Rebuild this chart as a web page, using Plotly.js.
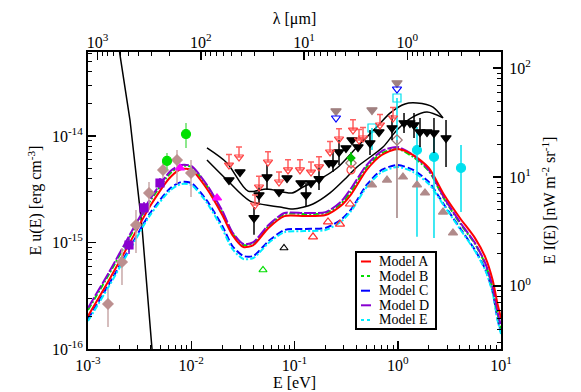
<!DOCTYPE html>
<html><head><meta charset="utf-8">
<script src="https://cdn.plot.ly/plotly-3.0.1.min.js"></script>
<style>html,body{margin:0;padding:0;background:#fff;}#chart{width:581px;height:392px;}</style>
</head><body><div id="chart"></div>
<script>
// ---------- data (E in eV, E u(E) in erg cm^-3) ----------
const energyGrid = [0.001, 0.0016, 0.0025, 0.004, 0.0063, 0.008, 0.01, 0.014, 0.02, 0.025, 0.032, 0.04, 0.056, 0.08, 0.126, 0.2, 0.28, 0.355, 0.5, 0.7, 1.0, 1.41, 2.0, 2.82, 4.0, 5.6, 7.1, 8.3, 9.3, 10];
const modelA = [2.04e-16, 4.45e-16, 9.68e-16, 2.20e-15, 4.12e-15, 4.90e-15, 4.80e-15, 3.25e-15, 1.81e-15, 1.18e-15, 9.07e-16, 9.47e-16, 1.37e-15, 1.77e-15, 1.77e-15, 1.81e-15, 2.20e-15, 2.85e-15, 4.80e-15, 6.63e-15, 7.55e-15, 6.63e-15, 5.01e-15, 2.79e-15, 1.70e-15, 1.10e-15, 7.15e-16, 4.45e-16, 2.59e-16, 1.96e-16];
const modelB = [2.32e-16, 5.06e-16, 1.10e-15, 2.45e-15, 4.49e-15, 5.23e-15, 5.12e-15, 3.47e-15, 1.93e-15, 1.23e-15, 9.47e-16, 9.89e-16, 1.43e-15, 1.85e-15, 1.85e-15, 1.89e-15, 2.30e-15, 3.04e-15, 5.12e-15, 6.92e-15, 7.55e-15, 6.35e-15, 4.69e-15, 2.56e-15, 1.52e-15, 9.68e-16, 6.15e-16, 3.74e-16, 2.09e-16, 1.57e-16];
const modelC = [1.91e-16, 4.08e-16, 8.69e-16, 1.89e-15, 3.25e-15, 3.70e-15, 3.62e-15, 2.51e-15, 1.43e-15, 9.27e-16, 7.47e-16, 7.47e-16, 1.03e-15, 1.31e-15, 1.34e-15, 1.37e-15, 1.63e-15, 2.06e-15, 3.47e-15, 4.80e-15, 5.34e-15, 4.80e-15, 3.70e-15, 2.25e-15, 1.37e-15, 8.50e-16, 5.52e-16, 3.43e-16, 1.87e-16, 1.44e-16];
const modelD = [2.43e-16, 5.28e-16, 1.15e-15, 2.56e-15, 4.69e-15, 5.34e-15, 5.23e-15, 3.54e-15, 1.98e-15, 1.25e-15, 9.68e-16, 1.01e-15, 1.46e-15, 1.89e-15, 1.89e-15, 1.93e-15, 2.40e-15, 3.25e-15, 5.34e-15, 7.23e-15, 7.88e-15, 6.63e-15, 4.80e-15, 2.62e-15, 1.56e-15, 9.89e-16, 6.28e-16, 3.82e-16, 2.18e-16, 1.64e-16];
const modelE = [1.83e-16, 3.90e-16, 8.32e-16, 1.81e-15, 3.11e-15, 3.54e-15, 3.47e-15, 2.40e-15, 1.34e-15, 8.69e-16, 7.00e-16, 7.15e-16, 9.89e-16, 1.25e-15, 1.28e-15, 1.31e-15, 1.56e-15, 1.98e-15, 3.32e-15, 4.59e-15, 5.12e-15, 4.59e-15, 3.54e-15, 2.20e-15, 1.34e-15, 8.32e-16, 5.40e-16, 3.36e-16, 1.83e-16, 1.38e-16];
const modelNames = ['Model A', 'Model B', 'Model C', 'Model D', 'Model E'];

// CMB Wien tail
const cmbE = [1.953e-3, 2.042e-3, 2.551e-3, 3.050e-3, 3.334e-3, 4.168e-3, 4.357e-3];
const cmbU = [7.97e-14, 5.76e-14, 1.413e-14, 3.11e-15, 1.40e-15, 1.0e-16, 6.35e-17];

// black envelope curves
const upperE = [0.0142, 0.0222, 0.0355, 0.0542, 0.0946, 0.121, 0.177, 0.258, 0.403, 0.630, 0.841, 1.175, 1.536, 2.195, 2.744];
const upperU = [7.72e-15, 5.58e-15, 3.04e-15, 3.18e-15, 2.92e-15, 3.32e-15, 3.95e-15, 5.01e-15, 7.88e-15, 1.22e-14, 1.64e-14, 2.00e-14, 2.04e-14, 1.87e-14, 1.48e-14];
const lowerE = [0.0142, 0.0222, 0.0371, 0.0724, 0.0967, 0.151, 0.221, 0.323, 0.403, 0.720, 0.983, 1.405, 1.920, 2.744];
const lowerU = [5.95e-15, 3.86e-15, 2.45e-15, 2.15e-15, 2.06e-15, 2.30e-15, 2.92e-15, 4.12e-15, 5.12e-15, 7.88e-15, 1.14e-14, 1.51e-14, 1.68e-14, 1.48e-14];

// brown diamonds
const dmE = [1.562e-3, 2.134e-3, 2.916e-3, 3.898e-3, 5.325e-3, 7.278e-3, 9.945e-3];
const dmU = [2.65e-16, 6.56e-16, 1.46e-15, 2.92e-15, 4.80e-15, 5.95e-15, 4.49e-15];
const dmHi = [3.66e-16, 8.88e-16, 2.02e-15, 3.70e-15, 5.70e-15, 7.39e-15, 5.95e-15];
const dmLo = [1.61e-16, 3.99e-16, 7.97e-16, 2.02e-15, 4.03e-15, 3.54e-15, 2.67e-15];
// green circles
const gcE = [5.822e-3, 8.896e-3];
const gcU = [5.83e-15, 1.044e-14];
const gcHi = [6.92e-15, 1.325e-14];
const gcLo = [4.80e-15, 7.72e-15];
// purple squares
const psE = [2.495e-3, 3.486e-3, 4.980e-3];
const psU = [9.47e-16, 2.11e-15, 3.62e-15];
const psHi = [1.13e-15, 2.40e-15, 4.03e-15];
const psLo = [7.80e-16, 1.81e-15, 3.18e-15];
// magenta triangles
const mtE = [7.780e-3, 1.776e-2];
const mtU = [5.01e-15, 2.62e-15];
// red open down triangles (limits)
const rdE = [0.0232, 0.02901, 0.04145, 0.04532, 0.05537, 0.07078, 0.0865, 0.1130, 0.1445, 0.1727, 0.2208, 0.2698, 0.3686, 0.4214, 0.4607, 0.6731, 0.8995];
const rdU = [5.34e-15, 6.35e-15, 2.25e-15, 3.32e-15, 5.70e-15, 3.70e-15, 4.80e-15, 4.80e-15, 4.59e-15, 5.12e-15, 7.08e-15, 9.37e-15, 1.138e-14, 9.17e-15, 9.58e-15, 1.269e-14, 1.476e-14];
const rdHi = [6.7e-15, 7.9e-15, 2.8e-15, 4.2e-15, 7.1e-15, 4.6e-15, 6.0e-15, 6.0e-15, 5.7e-15, 6.4e-15, 8.9e-15, 1.17e-14, 1.42e-14, 1.15e-14, 1.20e-14, 1.59e-14, 1.85e-14];
// black filled down triangles
const bkE = [0.0232, 0.02966, 0.04053, 0.04532, 0.05416, 0.07078, 0.08461, 0.1156, 0.1293, 0.1445, 0.1727, 0.2158, 0.2360, 0.2698, 0.3153, 0.3605, 0.4121, 0.5385, 0.6582, 0.8796, 1.150, 1.314, 1.437, 1.643, 1.920, 2.244, 2.934];
const bkU = [3.86e-15, 4.59e-15, 1.70e-15, 2.79e-15, 4.12e-15, 2.98e-15, 4.03e-15, 3.62e-15, 2.79e-15, 3.62e-15, 3.95e-15, 5.58e-15, 5.58e-15, 7.08e-15, 7.72e-15, 9.17e-15, 7.88e-15, 8.60e-15, 1.090e-14, 1.189e-14, 1.325e-14, 1.325e-14, 1.269e-14, 1.090e-14, 1.090e-14, 1.067e-14, 9.58e-15];
const bkHi = [3.86e-15, 4.59e-15, 2.15e-15, 3.47e-15, 5.34e-15, 2.98e-15, 4.03e-15, 3.62e-15, 3.62e-15, 3.62e-15, 5.34e-15, 5.58e-15, 7.39e-15, 9.17e-15, 7.72e-15, 9.17e-15, 7.88e-15, 1.138e-14, 1.090e-14, 1.575e-14, 1.644e-14, 1.325e-14, 1.644e-14, 1.476e-14, 1.090e-14, 1.476e-14, 1.413e-14];
const bkLo = [3.86e-15, 4.59e-15, 1.18e-15, 2.25e-15, 3.11e-15, 2.98e-15, 4.03e-15, 3.62e-15, 2.15e-15, 3.62e-15, 3.11e-15, 5.58e-15, 4.59e-15, 5.34e-15, 7.72e-15, 9.17e-15, 7.88e-15, 6.63e-15, 1.090e-14, 9.17e-15, 1.067e-14, 1.325e-14, 9.58e-15, 7.88e-15, 1.090e-14, 6.92e-15, 5.12e-15];
// brown filled down triangles
const btE = [0.2523, 0.5630, 0.9833];
const btU = [1.717e-14, 1.754e-14, 3.146e-14];
// blue open down triangles
const bvE = [0.2523, 0.9833];
const bvU = [1.476e-14, 2.762e-14];
// cyan open squares
const csE = [0.5630, 0.9833];
const csU = [1.189e-14, 2.274e-14];
const csLo = [7.39e-15, 8.60e-15];
// brown open diamonds
const boE = [0.3526, 0.9833];
const boU = [5.58e-15, 9.17e-15];
const boLo = [5.58e-15, 1.70e-15];
// red open circle, green small marker
const roE = [0.3526];
const roU = [4.80e-15];
const gsE = [0.3526];
const gsU = [6.21e-15];
const gsHi = [7.08e-15];
const gsLo = [5.34e-15];
// cyan filled circles
const ccE = [1.536, 2.244, 4.099];
const ccU = [7.39e-15, 6.35e-15, 5.01e-15];
const ccHi = [1.215e-14, 9.79e-15, 8.23e-15];
const ccLo = [1.13e-15, 1.10e-15, 1.93e-15];
// brown filled up triangles
const buE = [0.5630, 0.7869, 1.124, 1.536, 1.836, 2.744, 3.428];
const buU = [3.47e-15, 3.86e-15, 4.12e-15, 3.47e-15, 2.92e-15, 1.93e-15, 1.23e-15];
// red open up triangles
const ruE = [0.1511, 0.2111, 0.2759, 0.3448];
const ruU = [1.13e-15, 1.56e-15, 1.49e-15, 2.30e-15];
// black / green open up triangles
const kuE = [0.07912];
const kuU = [8.88e-16];
const guE = [0.04953];
const guU = [5.52e-16];

// ticks
const eTickVals = [0.001, 0.01, 0.1, 1, 10];
const eTickText = ['10<sup>-3</sup>', '10<sup>-2</sup>', '10<sup>-1</sup>', '10<sup>0</sup>', '10<sup>1</sup>'];
const lamTickVals = [1000, 100, 10, 1];
const lamTickText = ['10<sup>3</sup>', '10<sup>2</sup>', '10<sup>1</sup>', '10<sup>0</sup>'];
const uTickVals = [1e-16, 1e-15, 1e-14];
const uTickText = ['10<sup>-16</sup>', '10<sup>-15</sup>', '10<sup>-14</sup>'];
const iTickVals = [1, 10, 100];
const iTickText = ['10<sup>0</sup>', '10<sup>1</sup>', '10<sup>2</sup>'];

const HC_EV_UM = 1.23984;          // lambda[um] = HC / E[eV]
const E_RANGE = [0.001, 10];       // eV
const U_RANGE = [1e-16, 6.15e-14]; // erg cm^-3
const I_RANGE = [0.263, 141];      // nW m^-2 sr^-1 (right axis as drawn)

function minorTicks(lo, hi) {
  const out = [];
  for (let p = Math.floor(Math.log10(lo)); p <= Math.ceil(Math.log10(hi)); p++) {
    for (let m = 2; m <= 9; m++) {
      const v = m * Math.pow(10, p);
      if (v > lo && v < hi) out.push(v);
    }
  }
  return out;
}

const serif = "'Liberation Serif', 'Times New Roman', 'DejaVu Serif', serif";
function errY(y, hi, lo, color, width) {
  return {type: 'data', symmetric: false,
    array: y.map((v, i) => hi ? hi[i] - v : 0),
    arrayminus: y.map((v, i) => lo ? v - lo[i] : 0),
    color: color, thickness: 1.5, width: width || 0};
}

const traces = [];
const plain = (x, y, color, w, extra) => Object.assign({x, y, mode: 'lines', type: 'scatter', hoverinfo: 'skip', showlegend: false,
  line: {color: color, width: w}}, extra || {});

traces.push(plain(cmbE, cmbU, '#000', 1.5));
traces.push(plain(upperE, upperU, '#000', 1.5, {line: {color: '#000', width: 1.5, shape: 'spline', smoothing: 0.8}}));
traces.push(plain(lowerE, lowerU, '#000', 1.5, {line: {color: '#000', width: 1.5, shape: 'spline', smoothing: 0.8}}));

const modelStyles = [
  {y: modelC, color: '#0000ff', dash: '7px,3px'},
  {y: modelE, color: '#00eeff', dash: '6px,2px,2px,2px'},
  {y: modelB, color: '#00dd00', dash: '6px,2px,2px,2px'},
  {y: modelD, color: '#8800d0', dash: '12px,2px'},
  {y: modelA, color: '#ff0000', dash: 'solid'}
];
const modelIdx = [2, 4, 1, 3, 0];
modelStyles.forEach((s, k) => {
  traces.push({x: energyGrid, y: s.y, type: 'scatter', mode: 'lines', name: modelNames[modelIdx[k]], showlegend: false, hoverinfo: 'skip',
    line: {color: s.color, width: 2, dash: s.dash, shape: 'spline', smoothing: 0.7}});
});

const mk = (x, y, symbol, color, size, extra) => Object.assign({x, y, type: 'scatter', mode: 'markers', showlegend: false, hoverinfo: 'skip',
  marker: {symbol: symbol, color: color, size: size, line: {color: color, width: 1.2}}}, extra || {});

traces.push(mk(dmE, dmU, 'diamond', '#bc8f8f', 8, {error_y: errY(dmU, dmHi, dmLo, '#c8a8a8')}));
traces.push(mk(gcE, gcU, 'circle', '#00e000', 9, {error_y: errY(gcU, gcHi, gcLo, '#66e066')}));
traces.push(mk(psE, psU, 'square', '#8a00d0', 8, {error_y: errY(psU, psHi, psLo, '#8a00d0')}));
traces.push(mk(mtE, mtU, 'triangle-up', '#ff00ff', 8));
traces.push(mk(ccE, ccU, 'circle', '#00e0ee', 9, {error_y: errY(ccU, ccHi, ccLo, '#00e0ee')}));
traces.push(mk(csE, csU, 'square-open', '#00e0ee', 8, {error_y: errY(csU, null, csLo, '#00e0ee')}));
traces.push(mk(boE, boU, 'diamond-open', '#a07878', 8, {error_y: errY(boU, null, boLo, '#a08080')}));
traces.push(mk(roE, roU, 'circle-open', '#ff4040', 8));
traces.push(mk(gsE, gsU, 'diamond', '#00c000', 6, {error_y: errY(gsU, gsHi, gsLo, '#00c000')}));
traces.push(mk(bkE, bkU, 'triangle-down', '#000', 9, {error_y: errY(bkU, bkHi, bkLo, '#000')}));
traces.push(mk(rdE, rdU, 'triangle-down-open', '#ff4040', 8, {error_y: errY(rdU, rdHi, null, '#ff6060', 3)}));
traces.push(mk(btE, btU, 'triangle-down', '#a08080', 9));
traces.push(mk(bvE, bvU, 'triangle-down-open', '#0000ff', 8));
traces.push(mk(buE, buU, 'triangle-up', '#b08a8a', 8));
traces.push(mk(ruE, ruU, 'triangle-up-open', '#ff3030', 8));
traces.push(mk(kuE, kuU, 'triangle-up-open', '#000', 7));
traces.push(mk(guE, guU, 'triangle-up-open', '#00dd00', 7));

const lamLo = HC_EV_UM / E_RANGE[0], lamHi = HC_EV_UM / E_RANGE[1];
// carrier traces so the wavelength (top) and intensity (right) axes are built
traces.push({x: [lamLo, lamHi], y: U_RANGE, xaxis: 'x2', yaxis: 'y', type: 'scatter', mode: 'none', hoverinfo: 'skip', showlegend: false});
traces.push({x: E_RANGE, y: I_RANGE, xaxis: 'x', yaxis: 'y2', type: 'scatter', mode: 'none', hoverinfo: 'skip', showlegend: false});

const tickFont = {family: serif, size: 16, color: '#000'};
const titleFont = {family: serif, size: 16, color: '#000'};
const common = {showline: true, linewidth: 2, linecolor: '#000', ticks: 'inside', ticklen: 8, tickwidth: 1.5, tickcolor: '#000',
  showgrid: false, zeroline: false, tickmode: 'array', tickfont: tickFont, type: 'log', autorange: false};

const legendTop = 252, legendBot = 329, legendLeft = 356, legendRight = 436;
const px2x = p => (p - 88) / 413, px2y = p => (349 - p) / 297;
const legendColors = ['#ff0000', '#00dd00', '#0000ff', '#8800d0', '#00eeff'];
const legendDash = ['solid', 'dot', 'dash', 'solid', 'dot'];
const shapes = [{type: 'rect', xref: 'paper', yref: 'paper', x0: px2x(legendLeft), x1: px2x(legendRight), y0: px2y(legendBot), y1: px2y(legendTop),
  line: {color: '#000', width: 2}, fillcolor: '#fff', layer: 'above'}];
const annotations = [];
modelNames.forEach((n, i) => {
  const yc = px2y(261.5 + i * 14.6);
  shapes.push({type: 'line', xref: 'paper', yref: 'paper', x0: px2x(361), x1: px2x(371), y0: yc, y1: yc,
    line: {color: legendColors[i], width: 2, dash: legendDash[i]}, layer: 'above'});
  annotations.push({xref: 'paper', yref: 'paper', x: px2x(377), y: yc, xanchor: 'left', yanchor: 'middle', showarrow: false,
    text: n, font: {family: serif, size: 14, color: '#000'}});
});

const layout = {
  width: 581, height: 392,
  margin: {l: 88, r: 80, t: 52, b: 43},
  paper_bgcolor: '#fff', plot_bgcolor: '#fff',
  showlegend: false,
  font: {family: serif, size: 16, color: '#000'},
  xaxis: Object.assign({}, common, {range: [Math.log10(E_RANGE[0]), Math.log10(E_RANGE[1])], tickvals: eTickVals, ticktext: eTickText,
    ticklabelstandoff: 1,
    minor: {ticks: 'inside', ticklen: 4, tickwidth: 1, tickcolor: '#000', tickmode: 'array', tickvals: minorTicks(E_RANGE[0], E_RANGE[1])},
    title: {text: 'E [eV]', font: titleFont, standoff: 1}}),
  xaxis2: Object.assign({}, common, {overlaying: 'x', side: 'top', anchor: 'y', range: [Math.log10(lamLo), Math.log10(lamHi)],
    tickvals: lamTickVals, ticktext: lamTickText, ticklabelstandoff: -4,
    minor: {ticks: 'inside', ticklen: 4, tickwidth: 1, tickcolor: '#000', tickmode: 'array', tickvals: minorTicks(lamHi, lamLo)},
    title: {text: 'λ [μm]', font: titleFont, standoff: 2}}),
  yaxis: Object.assign({}, common, {range: [Math.log10(U_RANGE[0]), Math.log10(U_RANGE[1])], tickvals: uTickVals, ticktext: uTickText,
    minor: {ticks: 'inside', ticklen: 4, tickwidth: 1, tickcolor: '#000', tickmode: 'array', tickvals: minorTicks(U_RANGE[0], U_RANGE[1])},
    title: {text: 'E u(E) [erg cm<sup>-3</sup>]', font: titleFont, standoff: 6}}),
  yaxis2: Object.assign({}, common, {overlaying: 'y', side: 'right', anchor: 'x', range: [Math.log10(I_RANGE[0]), Math.log10(I_RANGE[1])],
    tickvals: iTickVals, ticktext: iTickText, ticklabelstandoff: 3,
    minor: {ticks: 'inside', ticklen: 4, tickwidth: 1, tickcolor: '#000', tickmode: 'array', tickvals: minorTicks(I_RANGE[0], I_RANGE[1])},
    title: {text: 'E I(E) [nW m<sup>-2</sup> sr<sup>-1</sup>]', font: titleFont, standoff: 14}}),
  shapes: shapes,
  annotations: annotations
};

Plotly.newPlot('chart', traces, layout, {staticPlot: true, displayModeBar: false});
</script>
</body></html>
